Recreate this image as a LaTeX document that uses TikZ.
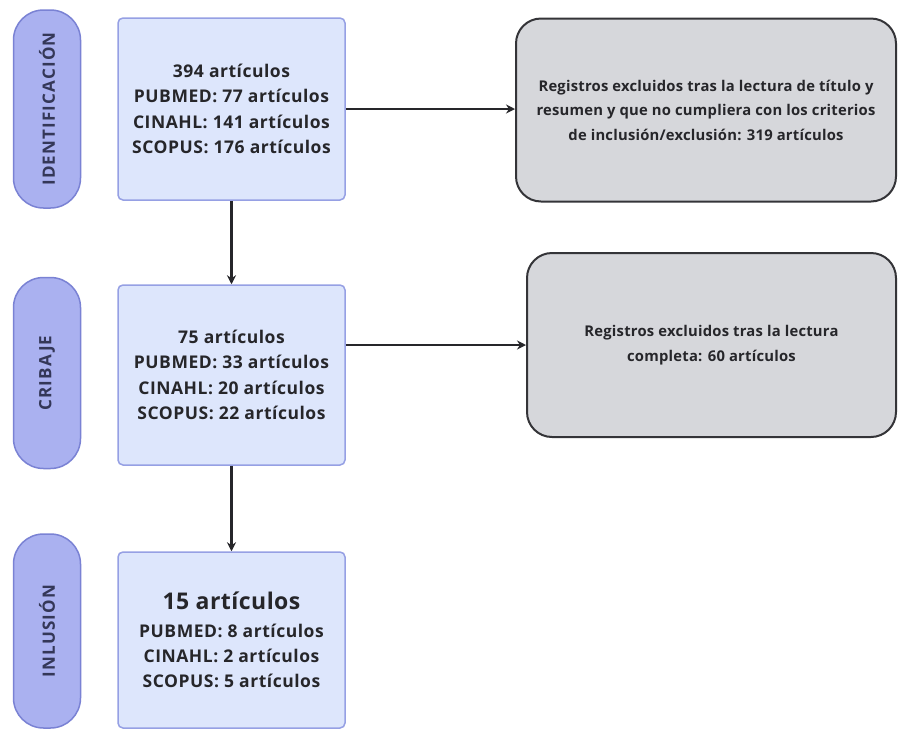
\documentclass[tikz,border=0pt]{standalone}
\usepackage{fontspec}
\setmainfont{Open Sans}
\usetikzlibrary{arrows.meta}
\definecolor{pillfill}{RGB}{170,177,240}
\definecolor{pilldraw}{RGB}{122,130,212}
\definecolor{boxfill}{RGB}{221,230,252}
\definecolor{boxdraw}{RGB}{150,160,228}
\definecolor{grayfill}{RGB}{214,215,219}
\definecolor{graydraw}{RGB}{52,52,56}
\definecolor{txt}{RGB}{38,38,42}
\definecolor{pilltxt}{RGB}{52,55,88}
\tikzset{
  pill/.style={draw=pilldraw, fill=pillfill, line width=1.5pt, rounded corners=30pt,
    minimum width=67pt, inner sep=0pt, text=pilltxt,
    font=\fontsize{17}{18}\selectfont\bfseries\addfontfeature{LetterSpace=7}},
  bluebox/.style={draw=boxdraw, fill=boxfill, line width=1.5pt, rounded corners=5pt,
    minimum width=227pt, inner sep=0pt, text=txt, align=center,
    font=\fontsize{17.5}{25.3}\selectfont\bfseries\addfontfeature{LetterSpace=3}},
  graybox/.style={draw=graydraw, fill=grayfill, line width=2pt, rounded corners=25pt,
    inner sep=0pt, text=txt, align=center,
    font=\fontsize{14.8}{24.5}\selectfont\bfseries\addfontfeature{LetterSpace=1.5}},
  conn/.style={draw=txt, line width=2.2pt, -{Stealth[length=9pt,width=9pt]}}
}
\begin{document}
\begin{tikzpicture}[x=1pt,y=-1pt]
\useasboundingbox[fill=white] (0,0) rectangle (898,729);
% phase pills
\node[pill, minimum height=198pt] (p1) at (47,109) {\rotatebox{90}{IDENTIFICACIÓN}};
\node[pill, minimum height=191pt] (p2) at (47,373) {\rotatebox{90}{CRIBAJE}};
\node[pill, minimum height=194pt] (p3) at (47,631) {\rotatebox{90}{INLUSIÓN}};
% blue boxes
\node[bluebox, minimum height=182pt] (b1) at (231.5,109)
  {394 artículos\\PUBMED: 77 artículos\\CINAHL: 141 artículos\\SCOPUS: 176 artículos};
\node[bluebox, minimum height=180pt] (b2) at (231.5,375)
  {75 artículos\\PUBMED: 33 artículos\\CINAHL: 20 artículos\\SCOPUS: 22 artículos};
\node[bluebox, minimum height=176pt] (b3) at (231.5,640)
  {{\fontsize{23}{28}\selectfont\addfontfeature{LetterSpace=2} 15 artículos}\\[2pt]
   PUBMED: 8 artículos\\
   CINAHL: 2 artículos\\
   SCOPUS: 5 artículos};
% gray boxes
\node[graybox, minimum width=380pt, minimum height=183pt] (g1) at (706,110)
  {Registros excluidos tras la lectura de título y\\resumen y que no cumpliera con los criterios\\de inclusión/exclusión: 319 artículos};
\node[graybox, minimum width=369pt, minimum height=184pt] (g2) at (711.5,345)
  {Registros excluidos tras la lectura\\completa: 60 artículos};
% connectors
\draw[conn] (b1.east) -- (g1.west |- b1.east);
\draw[conn] (b2.east |- g2.west) -- (g2.west);
\draw[conn] (b1.south) -- (b2.north);
\draw[conn] (b2.south) -- (b3.north);
\end{tikzpicture}
\end{document}
